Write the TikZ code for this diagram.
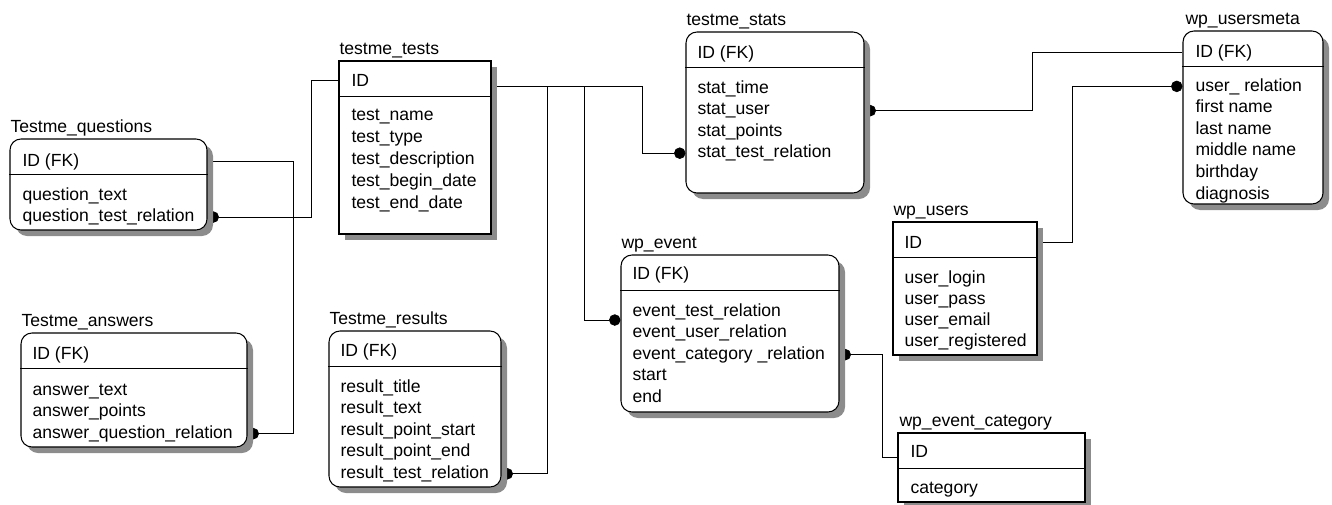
\documentclass[tikz,border=0pt]{standalone}
\usepackage{fontspec}
\setmainfont{Liberation Sans}
\usetikzlibrary{arrows.meta, fit, shadows, backgrounds}

\begin{document}
\begin{tikzpicture}[
    x=0.02cm, y=-0.02cm,
    >={Circle[length=6.5pt]},
    line width=0.6pt,
    font=\fontsize{10}{12}\selectfont,
    tbl/.style={draw, fill=white, inner sep=0pt,
        drop shadow={shadow xshift=0.12cm, shadow yshift=-0.12cm, fill=black!45, opacity=1}},
    entity/.style={tbl, rounded corners=0.22cm},
    tname/.style={anchor=base west, inner sep=0pt},
    fld/.style={anchor=base west, inner sep=0pt}
]
\useasboundingbox (0,0) rectangle (1332,504);

% Testme_questions
\node[entity, fit={(10,139) (207,230)}] (qst) {};
\node[tname] (qst-t) at (10,132) {Testme\_questions};
\node[fld] (qst-id) at (22,166) {ID (FK)};
\foreach \f [count=\i] in {question\_text, question\_test\_relation}
    \node[fld] (qst-\i) at (22,{178.4+21.6*\i}) {\f};

% Testme_answers
\node[entity, fit={(21,333) (247,447)}] (ans) {};
\node[tname] (ans-t) at (21,326) {Testme\_answers};
\node[fld] (ans-id) at (32,359) {ID (FK)};
\foreach \f [count=\i] in {answer\_text, answer\_points, answer\_question\_relation}
    \node[fld] (ans-\i) at (32,{373.4+21.6*\i}) {\f};

% testme_tests
\node[tbl, fit={(339,61) (491,234)}] (tst) {};
\node[tname] (tst-t) at (339,54) {testme\_tests};
\node[fld] (tst-id) at (351,86) {ID};
\foreach \f [count=\i] in {test\_name, test\_type, test\_description, test\_begin\_date, test\_end\_date}
    \node[fld] (tst-\i) at (351,{98+22*\i}) {\f};

% Testme_results
\node[entity, fit={(329,331) (501,487)}] (res) {};
\node[tname] (res-t) at (329,324) {Testme\_results};
\node[fld] (res-id) at (340,356) {ID (FK)};
\foreach \f [count=\i] in {result\_title, result\_text, result\_point\_start, result\_point\_end, result\_test\_relation}
    \node[fld] (res-\i) at (340,{370.4+21.6*\i}) {\f};

% wp_event
\node[entity, fit={(621,255) (839,412)}] (ev) {};
\node[tname] (ev-t) at (621,248) {wp\_event};
\node[fld] (ev-id) at (632,279) {ID (FK)};
\foreach \f [count=\i] in {event\_test\_relation, event\_user\_relation, event\_category \_relation, start, end}
    \node[fld] (ev-\i) at (632,{294.4+21.6*\i}) {\f};

% testme_stats
\node[entity, fit={(686,32) (864,193)}] (st) {};
\node[tname] (st-t) at (686,25) {testme\_stats};
\node[fld] (st-id) at (697,58) {ID (FK)};
\foreach \f [count=\i] in {stat\_time, stat\_user, stat\_points, stat\_test\_relation}
    \node[fld] (st-\i) at (697,{71.4+21.6*\i}) {\f};

% wp_usersmeta
\node[entity, fit={(1183,31) (1323,204)}] (um) {};
\node[tname] (um-t) at (1185,24) {wp\_usersmeta};
\node[fld] (um-id) at (1195,57) {ID (FK)};
\foreach \f [count=\i] in {user\_ relation, first name, last name, middle name, birthday, diagnosis}
    \node[fld] (um-\i) at (1195,{69.4+21.6*\i}) {\f};

% wp_users
\node[tbl, fit={(893,222) (1037,355)}] (us) {};
\node[tname] (us-t) at (893,215) {wp\_users};
\node[fld] (us-id) at (904,248) {ID};
\foreach \f [count=\i] in {user\_login, user\_pass, user\_email, user\_registered}
    \node[fld] (us-\i) at (904,{262+21*\i}) {\f};

% wp_event_category
\node[tbl, fit={(898,433) (1085,502)}] (cat) {};
\node[tname] (cat-t) at (899,426) {wp\_event\_category};
\node[fld] (cat-id) at (910,457) {ID};
\node[fld] (cat-1) at (910,493) {category};

% header lines
\foreach \t in {qst, ans, tst, res, ev, st, um, us, cat}
    \draw ([yshift=-0.72cm]\t.north west) -- ([yshift=-0.72cm]\t.north east);

% bends
\coordinate (bq) at (293,0);
\coordinate (bt) at (311,0);
\coordinate (br) at (547,0);
\coordinate (be) at (584,0);
\coordinate (bs) at (642,0);
\coordinate (bm) at (1032,0);
\coordinate (bu) at (1072,0);
\coordinate (bc) at (882,0);

% relations
\begin{pgfonlayer}{background}
\draw[<-] (ans.east |- ans-3) -- (ans-3 -| bq) |- (qst.east |- qst-id);
\draw[<-] (qst.east |- qst-2) -- (qst-2 -| bt) |- (tst.west |- tst-id);
\draw[<-] (res.east |- res-5) -- (res-5 -| br) |- (tst.east |- tst-id.base);
\draw[->] (tst.east |- tst-id.base) -- (tst-id.base -| be) |- (ev.west |- ev-1.south);
\draw[->] (tst.east |- tst-id.base) -- (tst-id.base -| bs) |- (st.west |- st-4);
\draw[<-] (st.east |- st-2) -- (st-2 -| bm) |- (um.west |- um-id);
\draw[->] (us.east |- us-id) -- (us-id -| bu) |- (um.west |- um-1);
\draw[<-] (ev.east |- ev-3) -- (ev-3 -| bc) |- (cat.west |- cat-id.base);
\end{pgfonlayer}
\end{tikzpicture}
\end{document}
